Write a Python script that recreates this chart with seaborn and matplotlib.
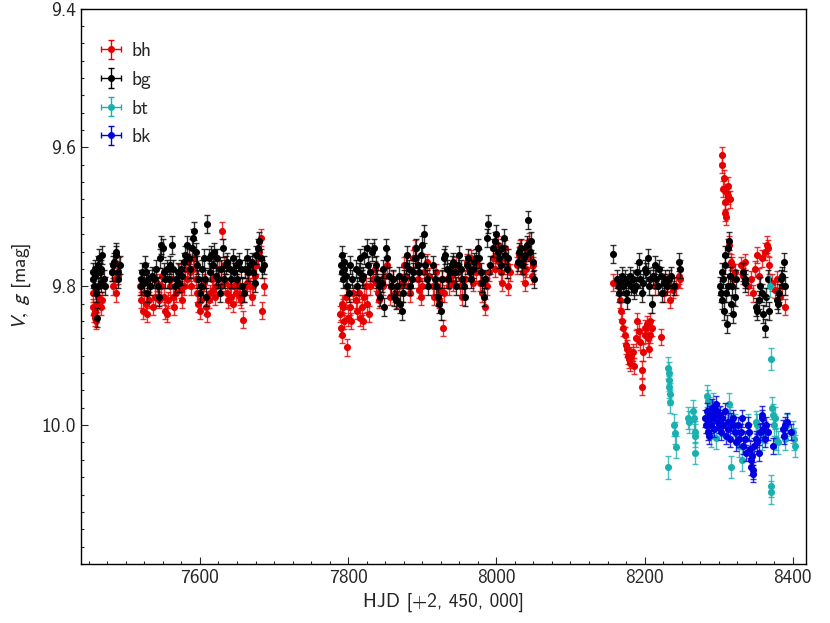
import numpy as np
import pandas as pd
import matplotlib
matplotlib.use("Agg")
import matplotlib.pyplot as plt
import seaborn as sns

# ---------------- data ----------------
bg_t = [7455, 7456, 7457, 7458, 7459, 7460, 7461, 7462, 7463, 7464, 7465, 7466, 7467, 7468, 7470, 7472,
        7481, 7483, 7484, 7486, 7487, 7489, 7490, 7492,
        7520, 7521, 7522, 7524, 7526, 7527, 7529, 7530, 7533, 7535, 7538, 7541, 7543, 7545, 7546, 7548,
        7550, 7551, 7553, 7556, 7558, 7560, 7562, 7564, 7566, 7568, 7570, 7572, 7574, 7576, 7578, 7580,
        7582, 7585, 7587, 7589, 7591, 7592, 7594, 7596, 7598, 7600, 7601, 7603, 7605, 7607, 7608, 7610,
        7612, 7614, 7615, 7617, 7619, 7621, 7623, 7625, 7627, 7629, 7631, 7633, 7635, 7637, 7640, 7642,
        7644, 7646, 7648, 7650, 7652, 7655, 7657, 7659, 7661, 7663, 7665, 7668, 7670, 7672, 7674, 7676,
        7678, 7680, 7682, 7684, 7686,
        7790, 7791, 7792, 7793, 7794, 7795, 7797, 7799, 7801, 7803, 7805, 7810, 7812, 7814, 7816, 7818,
        7820, 7822, 7825, 7827, 7829, 7832, 7835, 7837, 7839, 7841, 7843, 7845, 7847, 7849, 7851, 7853,
        7855, 7858, 7860, 7862, 7864, 7866, 7868, 7870, 7872, 7874, 7876, 7878, 7880, 7882, 7884, 7886,
        7888, 7890, 7892, 7894, 7896, 7898, 7900, 7902, 7904, 7906, 7908, 7915, 7917, 7919, 7921, 7923,
        7925, 7927, 7929, 7931, 7933, 7935, 7937, 7940, 7942, 7944, 7946, 7948, 7950, 7952, 7954, 7956,
        7958, 7960, 7962, 7964, 7966, 7968, 7970, 7973, 7975, 7977, 7979, 7981, 7983, 7985, 7987, 7989,
        7991, 7996, 7998, 8000, 8002, 8004, 8006, 8008, 8010, 8012, 8014, 8016, 8029, 8031, 8033, 8035,
        8037, 8039, 8041, 8043, 8045, 8047, 8049, 8051,
        8158, 8163, 8165, 8166, 8168, 8170, 8171, 8173, 8175, 8176, 8178, 8180, 8182, 8184, 8186, 8188,
        8190, 8192, 8194, 8196, 8198, 8200, 8202, 8204, 8206, 8208, 8210, 8212, 8214, 8216, 8218, 8220,
        8222, 8224, 8226, 8228, 8230, 8233, 8236, 8240, 8247, 8248,
        8302, 8303, 8304, 8305, 8306, 8307, 8308, 8309, 8310, 8311, 8312, 8313, 8314, 8315, 8316, 8318,
        8320, 8322, 8324, 8333, 8335, 8336, 8350, 8352, 8354, 8356, 8358, 8360, 8362, 8364, 8366, 8368,
        8379, 8380, 8382, 8384, 8386, 8388, 8389]
bg_m = [9.79, 9.78, 9.80, 9.775, 9.785, 9.81, 9.845, 9.80, 9.77, 9.76, 9.78, 9.795, 9.775, 9.755, 9.79, 9.80,
        9.78, 9.77, 9.765, 9.75, 9.755, 9.78, 9.79, 9.77,
        9.79, 9.80, 9.78, 9.795, 9.77, 9.78, 9.81, 9.79, 9.80, 9.785, 9.79, 9.775, 9.80, 9.815, 9.76, 9.74,
        9.745, 9.78, 9.79, 9.775, 9.79, 9.77, 9.74, 9.775, 9.80, 9.79, 9.78, 9.795, 9.775, 9.785, 9.765, 9.755,
        9.74, 9.76, 9.775, 9.745, 9.73, 9.72, 9.75, 9.77, 9.79, 9.81, 9.80, 9.775, 9.76, 9.79, 9.815, 9.71,
        9.76, 9.78, 9.755, 9.77, 9.75, 9.785, 9.76, 9.79, 9.81, 9.775, 9.745, 9.79, 9.77, 9.765, 9.775, 9.79,
        9.76, 9.78, 9.77, 9.79, 9.765, 9.775, 9.80, 9.81, 9.775, 9.76, 9.78, 9.77, 9.765, 9.78, 9.795, 9.755,
        9.745, 9.735, 9.76, 9.775, 9.77,
        9.77, 9.755, 9.78, 9.79, 9.765, 9.775, 9.785, 9.80, 9.81, 9.77, 9.79, 9.775, 9.80, 9.78, 9.76, 9.79,
        9.785, 9.755, 9.745, 9.77, 9.78, 9.75, 9.745, 9.77, 9.79, 9.80, 9.815, 9.795, 9.775, 9.83, 9.745, 9.76,
        9.785, 9.80, 9.79, 9.815, 9.82, 9.80, 9.785, 9.825, 9.835, 9.81, 9.79, 9.77, 9.755, 9.775, 9.80, 9.79,
        9.78, 9.76, 9.745, 9.77, 9.78, 9.755, 9.74, 9.725, 9.77, 9.79, 9.80, 9.77, 9.79, 9.80, 9.815, 9.825,
        9.835, 9.79, 9.76, 9.755, 9.775, 9.79, 9.78, 9.77, 9.765, 9.78, 9.80, 9.77, 9.755, 9.775, 9.79, 9.80,
        9.815, 9.77, 9.76, 9.78, 9.79, 9.775, 9.765, 9.76, 9.745, 9.76, 9.78, 9.795, 9.815, 9.79, 9.73, 9.71,
        9.77, 9.745, 9.735, 9.725, 9.75, 9.76, 9.77, 9.745, 9.73, 9.755, 9.775, 9.76, 9.765, 9.75, 9.745, 9.77,
        9.76, 9.755, 9.74, 9.705, 9.75, 9.735, 9.765, 9.79,
        9.753, 9.79, 9.80, 9.81, 9.795, 9.785, 9.80, 9.79, 9.81, 9.82, 9.795, 9.785, 9.80, 9.79, 9.805, 9.80,
        9.78, 9.765, 9.79, 9.81, 9.795, 9.775, 9.78, 9.76, 9.80, 9.79, 9.825, 9.785, 9.77, 9.79, 9.80, 9.775,
        9.785, 9.81, 9.795, 9.79, 9.80, 9.79, 9.785, 9.80, 9.765, 9.775,
        9.80, 9.81, 9.78, 9.82, 9.79, 9.835, 9.77, 9.755, 9.81, 9.855, 9.80, 9.745, 9.735, 9.785, 9.825, 9.80,
        9.84, 9.815, 9.79, 9.78, 9.795, 9.79, 9.83, 9.835, 9.82, 9.80, 9.81, 9.84, 9.86, 9.815, 9.79, 9.835,
        9.82, 9.825, 9.81, 9.79, 9.785, 9.765, 9.80]

bh_t = [7455, 7456, 7457, 7458, 7459, 7460, 7461, 7462, 7464, 7466, 7468,
        7481, 7483, 7485, 7487, 7489, 7491,
        7519, 7521, 7523, 7525, 7527, 7529, 7531, 7533, 7536, 7539, 7542, 7545, 7547, 7549, 7551, 7553,
        7555, 7557, 7559, 7561, 7563, 7565, 7567, 7570, 7572, 7574, 7576, 7578, 7580, 7582, 7584, 7586,
        7588, 7590, 7592, 7594, 7596, 7598, 7600, 7602, 7604, 7606, 7608, 7610, 7612, 7614, 7616, 7618,
        7620, 7622, 7624, 7626, 7628, 7630, 7632, 7634, 7636, 7638, 7640, 7642, 7644, 7646, 7648, 7650,
        7652, 7654, 7656, 7658, 7660, 7662, 7664, 7666, 7668, 7670, 7672, 7674, 7676, 7678, 7680, 7682,
        7684, 7686,
        7789, 7790, 7791, 7792, 7793, 7795, 7797, 7799, 7800, 7802, 7804, 7806, 7810, 7812, 7814, 7816,
        7818, 7820, 7822, 7824, 7826, 7828, 7830, 7834, 7836, 7838, 7840, 7842, 7845, 7847, 7850, 7853,
        7856, 7858, 7860, 7863, 7866, 7869, 7872, 7875, 7878, 7881, 7884, 7888, 7890, 7892, 7894, 7896,
        7898, 7900, 7903, 7906, 7909, 7914, 7916, 7918, 7920, 7922, 7924, 7926, 7928, 7930, 7933, 7936,
        7939, 7942, 7945, 7948, 7951, 7954, 7957, 7960, 7963, 7966, 7969, 7972, 7975, 7978, 7981, 7984,
        7986, 7988, 7990, 7996, 7998, 8000, 8002, 8004, 8006, 8008, 8010, 8012, 8014, 8016, 8018, 8028,
        8030, 8032, 8034, 8036, 8038, 8040, 8042, 8044, 8046, 8048, 8050,
        8157, 8164, 8167, 8168, 8170, 8171, 8173, 8175, 8176, 8178, 8179, 8181, 8182, 8184, 8186, 8188,
        8190, 8192, 8194, 8196, 8197, 8198, 8200, 8201, 8203, 8204, 8206, 8207, 8208, 8210, 8222, 8214,
        8226, 8230, 8234, 8238, 8242, 8247, 8248,
        8304, 8305, 8306, 8307, 8308, 8309, 8310, 8311, 8312, 8313, 8314, 8315, 8316, 8318, 8320, 8322,
        8330, 8333, 8336, 8340, 8343, 8346, 8349, 8352, 8355, 8358, 8362, 8365, 8366, 8368, 8372, 8376,
        8379, 8383, 8386, 8389]
bh_m = [9.81, 9.83, 9.84, 9.845, 9.835, 9.85, 9.825, 9.815, 9.80, 9.83, 9.82,
        9.78, 9.80, 9.79, 9.81, 9.785, 9.77,
        9.80, 9.82, 9.835, 9.81, 9.825, 9.84, 9.82, 9.80, 9.83, 9.815, 9.795, 9.82, 9.80, 9.785, 9.815, 9.835,
        9.84, 9.82, 9.80, 9.79, 9.815, 9.83, 9.81, 9.795, 9.78, 9.805, 9.82, 9.80, 9.775, 9.79, 9.765, 9.78,
        9.80, 9.775, 9.76, 9.79, 9.81, 9.825, 9.835, 9.82, 9.80, 9.795, 9.83, 9.84, 9.82, 9.81, 9.79, 9.805,
        9.815, 9.80, 9.79, 9.775, 9.80, 9.72, 9.77, 9.795, 9.81, 9.82, 9.80, 9.815, 9.825, 9.80, 9.81, 9.795,
        9.80, 9.815, 9.82, 9.848, 9.81, 9.80, 9.795, 9.78, 9.80, 9.815, 9.80, 9.785, 9.77, 9.76, 9.75, 9.73,
        9.835, 9.80,
        9.84, 9.86, 9.825, 9.87, 9.83, 9.85, 9.815, 9.888, 9.845, 9.83, 9.85, 9.81, 9.82, 9.835, 9.81, 9.845,
        9.83, 9.85, 9.815, 9.80, 9.825, 9.84, 9.80, 9.79, 9.775, 9.795, 9.81, 9.82, 9.79, 9.80, 9.785, 9.77,
        9.815, 9.80, 9.79, 9.81, 9.82, 9.80, 9.795, 9.77, 9.785, 9.80, 9.81, 9.76, 9.745, 9.76, 9.79, 9.805,
        9.815, 9.80, 9.78, 9.765, 9.785, 9.80, 9.815, 9.78, 9.80, 9.82, 9.805, 9.79, 9.86, 9.81, 9.79, 9.80,
        9.785, 9.795, 9.77, 9.78, 9.80, 9.815, 9.79, 9.765, 9.775, 9.76, 9.795, 9.78, 9.77, 9.795, 9.81, 9.83,
        9.79, 9.80, 9.78, 9.76, 9.775, 9.755, 9.74, 9.765, 9.78, 9.795, 9.76, 9.745, 9.77, 9.80, 9.78, 9.77,
        9.755, 9.745, 9.76, 9.78, 9.795, 9.775, 9.745, 9.735, 9.76, 9.785, 9.77,
        9.795, 9.80, 9.82, 9.835, 9.85, 9.86, 9.87, 9.885, 9.89, 9.90, 9.905, 9.91, 9.90, 9.895, 9.915, 9.875,
        9.85, 9.865, 9.88, 9.92, 9.945, 9.895, 9.87, 9.86, 9.855, 9.875, 9.89, 9.85, 9.87, 9.86, 9.873, 9.80,
        9.81, 9.795, 9.82, 9.805, 9.80, 9.785, 9.79,
        9.611, 9.625, 9.66, 9.644, 9.678, 9.694, 9.70, 9.665, 9.655, 9.67, 9.74, 9.675, 9.765, 9.77, 9.79, 9.78,
        9.77, 9.785, 9.765, 9.80, 9.79, 9.81, 9.775, 9.755, 9.785, 9.76, 9.75, 9.74, 9.745, 9.77, 9.795, 9.805,
        9.79, 9.815, 9.80, 9.83]

bt_t = [8231, 8232, 8232.5, 8233, 8233.5, 8234, 8234.5, 8240, 8241, 8242, 8259, 8260, 8266, 8267, 8267.5,
        8268, 8268.5, 8284, 8285, 8287, 8288, 8290, 8292, 8296, 8300, 8305, 8314, 8315, 8316, 8322, 8328,
        8331, 8340, 8350, 8352, 8358, 8363, 8369, 8370, 8370.5, 8371, 8372, 8374, 8375, 8376, 8378, 8380,
        8390, 8392, 8401, 8402, 8403]
bt_m = [10.061, 9.918, 9.925, 9.935, 9.945, 9.955, 9.966, 10.00, 10.011, 10.032, 9.99, 9.995, 9.98, 9.99, 10.01,
        10.015, 10.04, 9.958, 9.965, 9.975, 9.98, 10.015, 9.97, 10.018, 9.99, 10.0, 9.97, 9.99, 10.06, 10.0, 10.03,
        10.05, 10.0, 9.995, 10.0, 10.02, 10.01, 9.80, 9.905, 10.088, 10.097, 9.975, 9.985, 10.0, 9.99, 10.02, 10.025,
        10.02, 10.0, 10.01, 10.02, 10.03]

bk_t = [8282, 8283, 8284, 8285, 8286, 8287, 8288, 8290, 8291, 8292, 8294, 8295, 8297, 8298, 8299, 8300,
        8302, 8303, 8305, 8306, 8308, 8310, 8312, 8313, 8315, 8317, 8319, 8320, 8322, 8324, 8326, 8328,
        8330, 8331, 8333, 8335, 8337, 8339, 8341, 8342, 8343, 8344, 8345, 8346, 8347, 8348, 8350, 8352,
        8354, 8356, 8358, 8359, 8360, 8362, 8364, 8366, 8374, 8387, 8388, 8390, 8392, 8397]
bk_m = [9.99, 10.0, 9.98, 10.01, 9.995, 10.015, 9.985, 10.0, 9.975, 9.99, 10.005, 9.985, 9.97, 9.98, 9.995, 10.0,
        9.985, 10.01, 9.99, 10.0, 9.98, 10.015, 9.995, 10.005, 10.02, 9.995, 10.0, 9.99, 10.01, 10.025, 10.0, 10.02,
        10.01, 9.99, 10.03, 10.02, 10.04, 10.0, 10.01, 10.035, 10.05, 10.06, 10.045, 10.07, 10.065, 10.03, 10.02, 10.025,
        10.04, 10.01, 9.99, 9.985, 10.005, 10.02, 10.0, 10.01, 10.03, 10.005, 10.015, 10.0, 9.995, 10.01]

series_names = ["bh", "bg", "bt", "bk"]
series_err = {"bh": 0.012, "bg": 0.013, "bt": 0.016, "bk": 0.012}
series_colors = {"bh": "#e60000", "bg": "#000000", "bt": "#1ab0b0", "bk": "#0000e0"}

x_ticks = [7600, 7800, 8000, 8200, 8400]
y_ticks = [9.4, 9.6, 9.8, 10.0]

frames = []
for name, t, m in [("bh", bh_t, bh_m), ("bg", bg_t, bg_m), ("bt", bt_t, bt_m), ("bk", bk_t, bk_m)]:
    frames.append(pd.DataFrame({"hjd": t, "mag": m, "series": name}))
df = pd.concat(frames, ignore_index=True)

# ---------------- style ----------------
sns.set_theme(style="ticks")
plt.rcParams["font.family"] = ["cmss10", "DejaVu Sans"]
plt.rcParams["mathtext.fontset"] = "stixsans"
plt.rcParams["axes.unicode_minus"] = False
plt.rcParams["axes.formatter.use_mathtext"] = False

fig = plt.figure(figsize=(8.3, 6.23), dpi=100)
ax = fig.add_axes([0.0972, 0.0947, 0.8740, 0.8916])

z = 1
for name in series_names:
    sub = df[df["series"] == name]
    col = series_colors[name]
    ax.errorbar(sub["hjd"], sub["mag"], yerr=series_err[name], fmt="none",
                ecolor=col, elinewidth=1.0, capsize=2.5, capthick=1.0, alpha=0.8, zorder=z)
    sns.scatterplot(data=sub, x="hjd", y="mag", color=col, s=26, linewidth=0,
                    ax=ax, zorder=z + 1, legend=False)
    # legend proxy
    ax.errorbar([np.nan], [np.nan], xerr=[1], yerr=[1], fmt="o", color=col, ms=4,
                elinewidth=1.0, capsize=2, label=name)
    z += 2

ax.set_xlim(7439, 8418)
ax.set_ylim(10.2, 9.4)
ax.set_xticks(x_ticks)
ax.set_xticklabels([str(v) for v in x_ticks])
ax.set_yticks(y_ticks)
ax.set_yticklabels([f"{v:.1f}" for v in y_ticks])
ax.xaxis.set_minor_locator(matplotlib.ticker.MultipleLocator(25))
ax.yaxis.set_minor_locator(matplotlib.ticker.MultipleLocator(0.025))
ax.tick_params(which="both", direction="in", top=False, right=False, labelsize=14)
ax.tick_params(which="major", length=5, width=0.8)
ax.tick_params(which="minor", length=2.5, width=0.8)
for sp in ax.spines.values():
    sp.set_visible(True)
    sp.set_linewidth(1.0)
    sp.set_color("black")

ax.set_xlabel("HJD [+2, 450, 000]", fontsize=14, labelpad=4)
ax.set_ylabel(r"$V,\ g$ [mag]", fontsize=14, labelpad=6)

leg = ax.legend(loc="upper left", frameon=False, fontsize=14, handlelength=0.9,
                handletextpad=0.6, labelspacing=0.55, borderaxespad=0.9,
                bbox_to_anchor=(-0.005, 0.985))

fig.savefig("out.png", dpi=100)
